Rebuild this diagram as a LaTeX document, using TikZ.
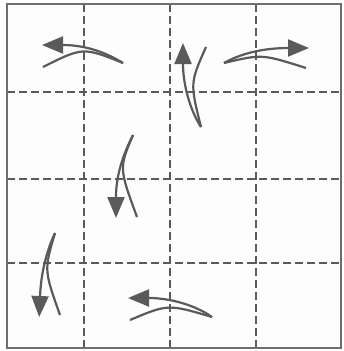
\documentclass[tikz,border=0pt]{standalone}
\usepackage{tikz}
\usetikzlibrary{arrows.meta}
\definecolor{paperC}{HTML}{FDFDFD}
\definecolor{lineC}{HTML}{5A5A5A}
\definecolor{edgeC}{HTML}{6E6E6E}

\begin{document}
\begin{tikzpicture}[x=1pt,y=-1pt,
    crease/.style={lineC,line width=2pt,dash pattern=on 8pt off 4pt},
    fold/.style={lineC,line width=2.2pt},
    foldhead/.style={fold,shorten >=-20pt,-{Triangle[length=21pt,width=17pt]}}]
  \useasboundingbox (0,0) rectangle (343,351);
  \fill[white] (0,0) rectangle (343,351);

  % paper square
  \fill[paperC] (7,4) rectangle (341,348);

  % valley creases
  \draw[crease] (84,4) -- (84,348);
  \draw[crease] (170,4) -- (170,348);
  \draw[crease] (256,4) -- (256,348);
  \draw[crease] (7,92) -- (341,92);
  \draw[crease] (7,179) -- (341,179);
  \draw[crease] (7,263) -- (341,263);

  % outline
  \draw[edgeC,line width=2.2pt] (7,4) rectangle (341,348);

  % top left, fold to the left (path ends at the base of the head)
  \draw[foldhead] (123,63) .. controls (105,52) and (85,45) .. (62,45);
  \draw[fold] (123,63) .. controls (83,47) .. (43,67);

  % top, fold upward
  \draw[foldhead] (201,127) .. controls (190,110) and (183,85) .. (183,63);
  \draw[fold] (201,127) .. controls (190,83) .. (206,47);

  % top right, fold to the right
  \draw[foldhead] (224,63) .. controls (240,54) and (262,48) .. (289,48);
  \draw[fold] (224,63) .. controls (262,54) .. (306,68);

  % middle, fold downward
  \draw[foldhead] (133,135) .. controls (123,155) and (116,175) .. (116,198);
  \draw[fold] (133,135) .. controls (119,168) .. (137,217);

  % bottom left, fold downward
  \draw[foldhead] (55,233) .. controls (47,250) and (41,272) .. (40,297);
  \draw[fold] (55,233) .. controls (44,270) .. (60,315);

  % bottom, fold to the left
  \draw[foldhead] (212,317) .. controls (195,305) and (170,298) .. (148,298);
  \draw[fold] (212,317) .. controls (168,304) .. (130,320);
\end{tikzpicture}
\end{document}
